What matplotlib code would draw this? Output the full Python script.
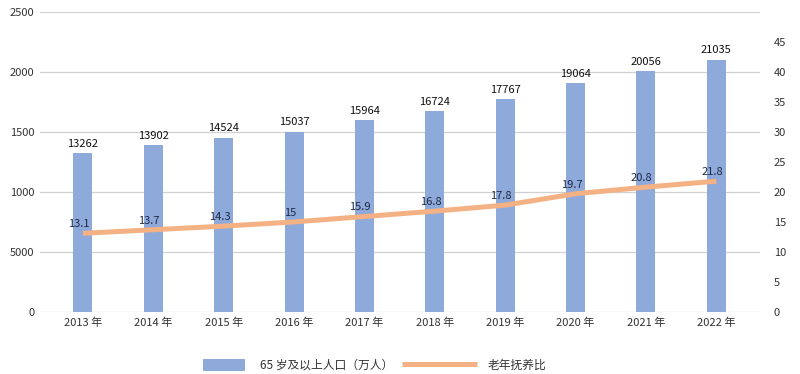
import matplotlib as mpl

mpl.use('Agg')
import matplotlib.pyplot as plt
import numpy as np

plt.rcParams['font.family'] = ['Noto Sans CJK SC', 'DejaVu Sans']

years = ['2013 年', '2014 年', '2015 年', '2016 年', '2017 年',
         '2018 年', '2019 年', '2020 年', '2021 年', '2022 年']
pop65 = [13262, 13902, 14524, 15037, 15964, 16724, 17767, 19064, 20056, 21035]
ratio = [13.1, 13.7, 14.3, 15, 15.9, 16.8, 17.8, 19.7, 20.8, 21.8]
ratio_labels = ['13.1', '13.7', '14.3', '15', '15.9', '16.8', '17.8', '19.7', '20.8', '21.8']
left_ticks = [0, 500, 1000, 1500, 2000, 2500]
left_ticklabels = ['0', '5000', '1000', '1500', '2000', '2500']

bar_color = '#8eaadb'
line_color = '#f4b183'
text_color = '#333333'

fig = plt.figure(figsize=(8, 3.74), dpi=100)
ax = fig.add_axes([0.05, 0.166, 0.90, 0.802])
x = np.arange(len(years))

# bars drawn on the left axis (value / 10)
heights = np.array(pop65) / 10.0
bars = ax.bar(x, heights, width=0.27, color=bar_color, zorder=2)
for xi, h, v in zip(x, heights, pop65):
    ax.annotate(str(v), (xi, h), xytext=(0, 3), textcoords='offset points',
                ha='center', va='bottom', fontsize=8, color='#111111')

ax.set_ylim(0, 2500)
ax.set_yticks(left_ticks)
ax.set_yticklabels(left_ticklabels)
ax.set_xlim(-0.61, 9.62)
ax.set_xticks(x)
ax.set_xticklabels(years)
ax.grid(axis='y', color='#d0d0d0', linewidth=0.9, zorder=0)
ax.set_axisbelow(True)
for s in ax.spines.values():
    s.set_visible(False)
ax.tick_params(length=0, labelsize=8, colors=text_color, pad=4)

ax2 = ax.twinx()
line, = ax2.plot(x, ratio, color=line_color, linewidth=3.6, solid_capstyle='butt', zorder=3)
for xi, r, lab in zip(x, ratio, ratio_labels):
    ax2.annotate(lab, (xi, r), xytext=(-3, 3), textcoords='offset points',
                 ha='center', va='bottom', fontsize=8, color='#1f2a44')
ax2.set_ylim(0, 50)
ax2.set_yticks(range(0, 50, 5))
for s in ax2.spines.values():
    s.set_visible(False)
ax2.tick_params(length=0, labelsize=8, colors=text_color, pad=10)

# two legends so the bar and line keys can have different lengths
fig.legend([bars], ['65 岁及以上人口（万人）'], loc='center left',
           bbox_to_anchor=(203 / 800, 0.024), frameon=False, fontsize=8.5,
           borderpad=0, borderaxespad=0, handlelength=3.6, handleheight=1.2,
           handletextpad=1.2, labelcolor=text_color)
fig.legend([line], ['老年抚养比'], loc='center left',
           bbox_to_anchor=(402 / 800, 0.024), frameon=False, fontsize=8.5,
           borderpad=0, borderaxespad=0, handlelength=6.35,
           handletextpad=0.9, labelcolor=text_color)

fig.savefig('out.png', dpi=100)
